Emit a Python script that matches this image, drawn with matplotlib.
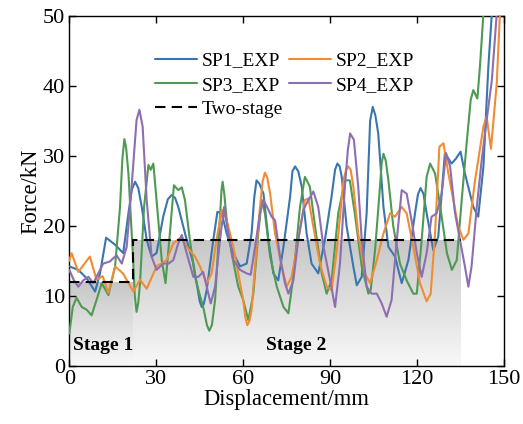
import numpy as np
import matplotlib
matplotlib.use("Agg")
import matplotlib.pyplot as plt

# ---- data ----
sp1_x = [0, 3.1, 6, 8.9, 10.6, 12.7, 15.8, 18.6, 20.4, 21.6, 22.7, 23.8, 25, 26.7, 28.4, 30.1, 32.4, 34, 35.3, 36.5, 37.6, 40.5, 42.8, 45, 45.7, 46.4, 47.4, 49.7, 51.1, 52.6, 54.3, 56.6, 58.9, 61.2, 62.9, 63.8, 64.6, 65.6, 67, 68.7, 70.4, 72.1, 73.9, 76.2, 77, 77.9, 79, 80.2, 81.9, 83.6, 85.9, 88.2, 90.5, 91.7, 92.5, 93.3, 94, 95.7, 98, 99.2, 100.9, 102.6, 103.8, 104.7, 105.6, 106.6, 108.4, 110.1, 112.4, 114.7, 117, 119.3, 120.3, 121.2, 122.2, 123.3, 125.6, 127.3, 129.6, 131.9, 133.4, 135, 136.5, 139.4, 141.1, 142.9, 144.6, 145.8]
sp1_y = [14.2, 13.7, 12.5, 10.6, 13.2, 18.3, 17.3, 16.1, 21.8, 25.2, 26.3, 25.4, 22.7, 18, 15.6, 16.1, 21.3, 23.8, 24.4, 24.0, 22.7, 18, 14.6, 9.2, 8.4, 8.8, 10.8, 18, 22, 21.8, 18.9, 16.1, 14.2, 14.6, 18.9, 24.0, 26.5, 26.0, 24.6, 18, 13.2, 12.2, 17, 24.2, 27.8, 28.5, 27.8, 25.6, 18.9, 14.6, 13.2, 18, 24.2, 28.0, 28.9, 28.5, 27, 19.9, 14.2, 11.5, 12.7, 21.8, 35.0, 37, 35.8, 33.2, 22.7, 17, 15.6, 11.8, 15.1, 21.8, 24.5, 25.4, 24.6, 21.8, 16.5, 18.4, 30.4, 28.9, 29.6, 30.6, 27.5, 22.7, 21.3, 28.5, 42.8, 50.4]

sp2_x = [0, 0.8, 3.1, 7.1, 9.4, 11.5, 13.5, 15.8, 18.5, 22.1, 24.4, 26.7, 30.1, 33.6, 35.9, 38.8, 40.5, 43.4, 45.1, 47.4, 49.1, 50.8, 52.6, 54.3, 56.6, 58.3, 60, 60.7, 61.4, 62.1, 62.9, 64.1, 65.8, 66.7, 67.5, 68.3, 69.3, 71, 73.3, 75, 76.7, 79, 81.3, 82.5, 84.2, 86.5, 88.8, 90.5, 92.3, 94.6, 95.5, 96.3, 97.1, 98, 99.7, 102, 103.8, 106.1, 108.4, 110.7, 112.4, 114.7, 116.4, 118.7, 121, 123.3, 124.7, 126.2, 127.7, 129.1, 130.8, 132.5, 134.2, 136, 137.7, 140, 142.9, 144, 145.5, 147.5, 148.6]
sp2_y = [15.0, 16.1, 13.4, 15.6, 12.3, 12.8, 10.4, 14.2, 13.2, 10.6, 12.3, 11.0, 14.2, 15.1, 17.5, 18.4, 17, 15.6, 14.2, 11.8, 13.2, 18, 22.3, 20.8, 17, 13.2, 9.4, 7.0, 5.8, 6.3, 8, 14.2, 22.7, 26.3, 27.6, 26.9, 24.6, 18.9, 14.2, 11.3, 12.7, 18, 23.7, 23.9, 19.9, 14.6, 11.3, 10.8, 16.5, 26.5, 28.0, 28.5, 28.0, 25.6, 18.9, 13.2, 11.8, 15.1, 18.9, 21.8, 21.3, 22.7, 21.8, 17, 11.8, 9.2, 10.3, 18.9, 31.3, 31.8, 27.5, 23.7, 19.9, 18, 18.9, 26.5, 34.2, 35.6, 31.0, 40.4, 50.4]

sp3_x = [0, 1.2, 2.5, 4.3, 6, 7.7, 9.4, 11.2, 13.5, 15.8, 17.5, 18.3, 19, 19.6, 20.4, 21.9, 22.6, 23.2, 23.8, 24.4, 25.8, 27.3, 28.1, 29, 30.1, 31.9, 33.2, 34.7, 36.1, 37.6, 38.8, 39.9, 41.6, 43.4, 44.9, 46.2, 47.5, 48.3, 49.2, 50.3, 52, 52.5, 52.9, 53.5, 54.3, 56, 58.3, 60, 61.8, 63.5, 65.2, 66.4, 67.5, 69.3, 71.6, 73.9, 75.6, 77.3, 79.6, 81.3, 83, 84.8, 87.1, 88.8, 90.5, 92.8, 95.1, 96.8, 98.5, 100.9, 103.2, 104, 105.5, 107.2, 107.8, 108.4, 109.2, 110.1, 111.8, 114.1, 116.4, 118.7, 119.9, 121.6, 123.3, 124.5, 126.2, 128, 130.3, 132, 133.7, 135.4, 137.1, 138.5, 139.4, 140.8, 141.7, 142.9]
sp3_y = [4.6, 8.4, 9.7, 8.4, 8, 7.2, 9.4, 11.8, 10.1, 14.2, 22.7, 29.5, 32.4, 31.2, 27.5, 16.1, 10.0, 7.7, 9.0, 11.8, 22.7, 28.7, 28, 28.9, 23.7, 15.1, 11.8, 18.9, 25.8, 25.1, 25.5, 23.7, 18, 12.7, 10.3, 8.4, 5.8, 5, 5.8, 9.4, 21.3, 25.0, 26.3, 24.5, 20.8, 16.1, 11.3, 9.4, 6.5, 10.3, 18.9, 23.7, 21.8, 15.6, 11.3, 8.4, 7.5, 12.7, 22.7, 27, 25.6, 19.9, 13.2, 10.3, 12.2, 21.8, 26.5, 26.5, 21.8, 14.2, 10.3, 10.8, 16.5, 25.6, 29.0, 30.3, 29.3, 26.5, 19.9, 14.6, 12.2, 10.3, 10.3, 18, 27, 28.9, 27.5, 22.7, 16.1, 13.7, 15.1, 23.7, 31.8, 38, 39.4, 38.2, 42.8, 50.4]

sp4_x = [0, 1.6, 3.1, 4.8, 6.6, 8.3, 10, 11.7, 14, 16.3, 18.1, 19.8, 21.5, 23.2, 24.2, 25.3, 26.7, 28.4, 30.1, 32.4, 34.2, 35.9, 37.6, 38.8, 40.5, 42.8, 44.5, 46.2, 47.4, 48.8, 50.3, 52, 53.4, 54.9, 56.6, 58.9, 61.2, 62.6, 64.1, 65.8, 67, 68.7, 69.8, 71, 72.7, 74.4, 75.6, 77.3, 79, 80.8, 82.5, 84.2, 85.9, 87.7, 90, 91.7, 93.4, 95.1, 96.1, 96.9, 98.2, 99.7, 100.9, 102.6, 104.3, 106.1, 107.8, 109.5, 111.2, 113, 114.7, 116.4, 118.1, 119.9, 121.6, 123.3, 125, 126.8, 128.5, 130, 131.4, 133.1, 134.8, 136.5, 137.7, 138.8, 140.6, 142.3, 144, 145.8, 147.5]
sp4_y = [13.7, 12.2, 11.3, 12.2, 12.7, 11.8, 13.2, 14.6, 14.9, 15.8, 14.6, 17, 25.6, 35.1, 36.6, 34.2, 23.7, 15.6, 13.7, 14.6, 14.6, 15.1, 17.5, 18.7, 16.1, 12.7, 12.7, 13.4, 11.3, 8.9, 11.3, 18, 22.7, 18.9, 15.1, 13.7, 13.2, 13, 17, 21.8, 23.7, 22.3, 21.3, 20.8, 15.6, 11.8, 10.3, 12.2, 18, 22.3, 23.7, 24.9, 22.7, 17, 12.2, 8.4, 14.6, 25.6, 30.8, 33.2, 32.3, 25.6, 18, 11.3, 10.3, 10.3, 8.9, 7, 9.4, 18, 25.1, 24.6, 20.8, 16.1, 12.7, 16.1, 21.3, 21.8, 24.6, 30.4, 28.5, 21.8, 18, 14.2, 11.3, 14.2, 22.7, 29.4, 35.1, 40.8, 50.4]

two_stage_x = [0, 22, 22, 23, 135]
two_stage_y = [12, 12, 18, 18, 18]

stage1_range = (0, 22, 12)    # x0, x1, height
stage2_range = (22, 135, 18)

x_ticks = [0, 30, 60, 90, 120, 150]
y_ticks = [0, 10, 20, 30, 40, 50]

colors = {"SP1_EXP": "#3a76ae", "SP2_EXP": "#f08c34", "SP3_EXP": "#4e9a52", "SP4_EXP": "#8d6eb0"}

plt.rcParams['font.family'] = ['Liberation Serif', 'DejaVu Serif']

fig = plt.figure(figsize=(5.23, 4.24), dpi=100)
ax = fig.add_axes([0.1325, 0.1375, 0.9637 - 0.1325, 0.9623 - 0.1375])

# gradient shading for the two stages
grad = np.linspace(0.97, 0.78, 256).reshape(-1, 1)
for (x0, x1, h) in (stage1_range, stage2_range):
    ax.imshow(grad, extent=[x0, x1, 0, h], origin='lower', cmap='gray',
              vmin=0, vmax=1, aspect='auto', zorder=0, interpolation='bilinear')

lw = 1.5
kw = dict(lw=lw, zorder=3, solid_joinstyle='round', solid_capstyle='round')
ax.plot(sp1_x, sp1_y, color=colors["SP1_EXP"], label="SP1_EXP", **kw)
ax.plot(sp3_x, sp3_y, color=colors["SP3_EXP"], label="SP3_EXP", **kw)
ax.plot(two_stage_x, two_stage_y, color='black', lw=1.5, ls=(0, (5, 3)), label="Two-stage", zorder=4)
ax.plot(sp2_x, sp2_y, color=colors["SP2_EXP"], label="SP2_EXP", **kw)
ax.plot(sp4_x, sp4_y, color=colors["SP4_EXP"], label="SP4_EXP", **kw)

ax.set_xlim(0, 150)
ax.set_ylim(0, 50)
ax.set_xticks(x_ticks)
ax.set_yticks(y_ticks)
ax.tick_params(direction='in', top=True, right=True, length=5, width=1, labelsize=16, pad=3)
for s in ax.spines.values():
    s.set_linewidth(1)

ax.set_xlabel("Displacement/mm", fontsize=16.3, labelpad=0)
ax.set_ylabel("Force/kN", fontsize=16.3, labelpad=1)

ax.text(1.2, 2.9, "Stage 1", fontsize=14, fontweight='bold', va='center', ha='left', zorder=5)
ax.text(68, 2.9, "Stage 2", fontsize=14, fontweight='bold', va='center', ha='left', zorder=5)

leg = ax.legend(ncol=2, loc='upper left', bbox_to_anchor=(155 / 523, 1 - 52 / 424),
                bbox_transform=fig.transFigure, frameon=False, fontsize=14,
                handlelength=2.15, handletextpad=0.25, columnspacing=0.3,
                labelspacing=0.33, borderpad=0, borderaxespad=0)

fig.savefig("out.png", dpi=100)
